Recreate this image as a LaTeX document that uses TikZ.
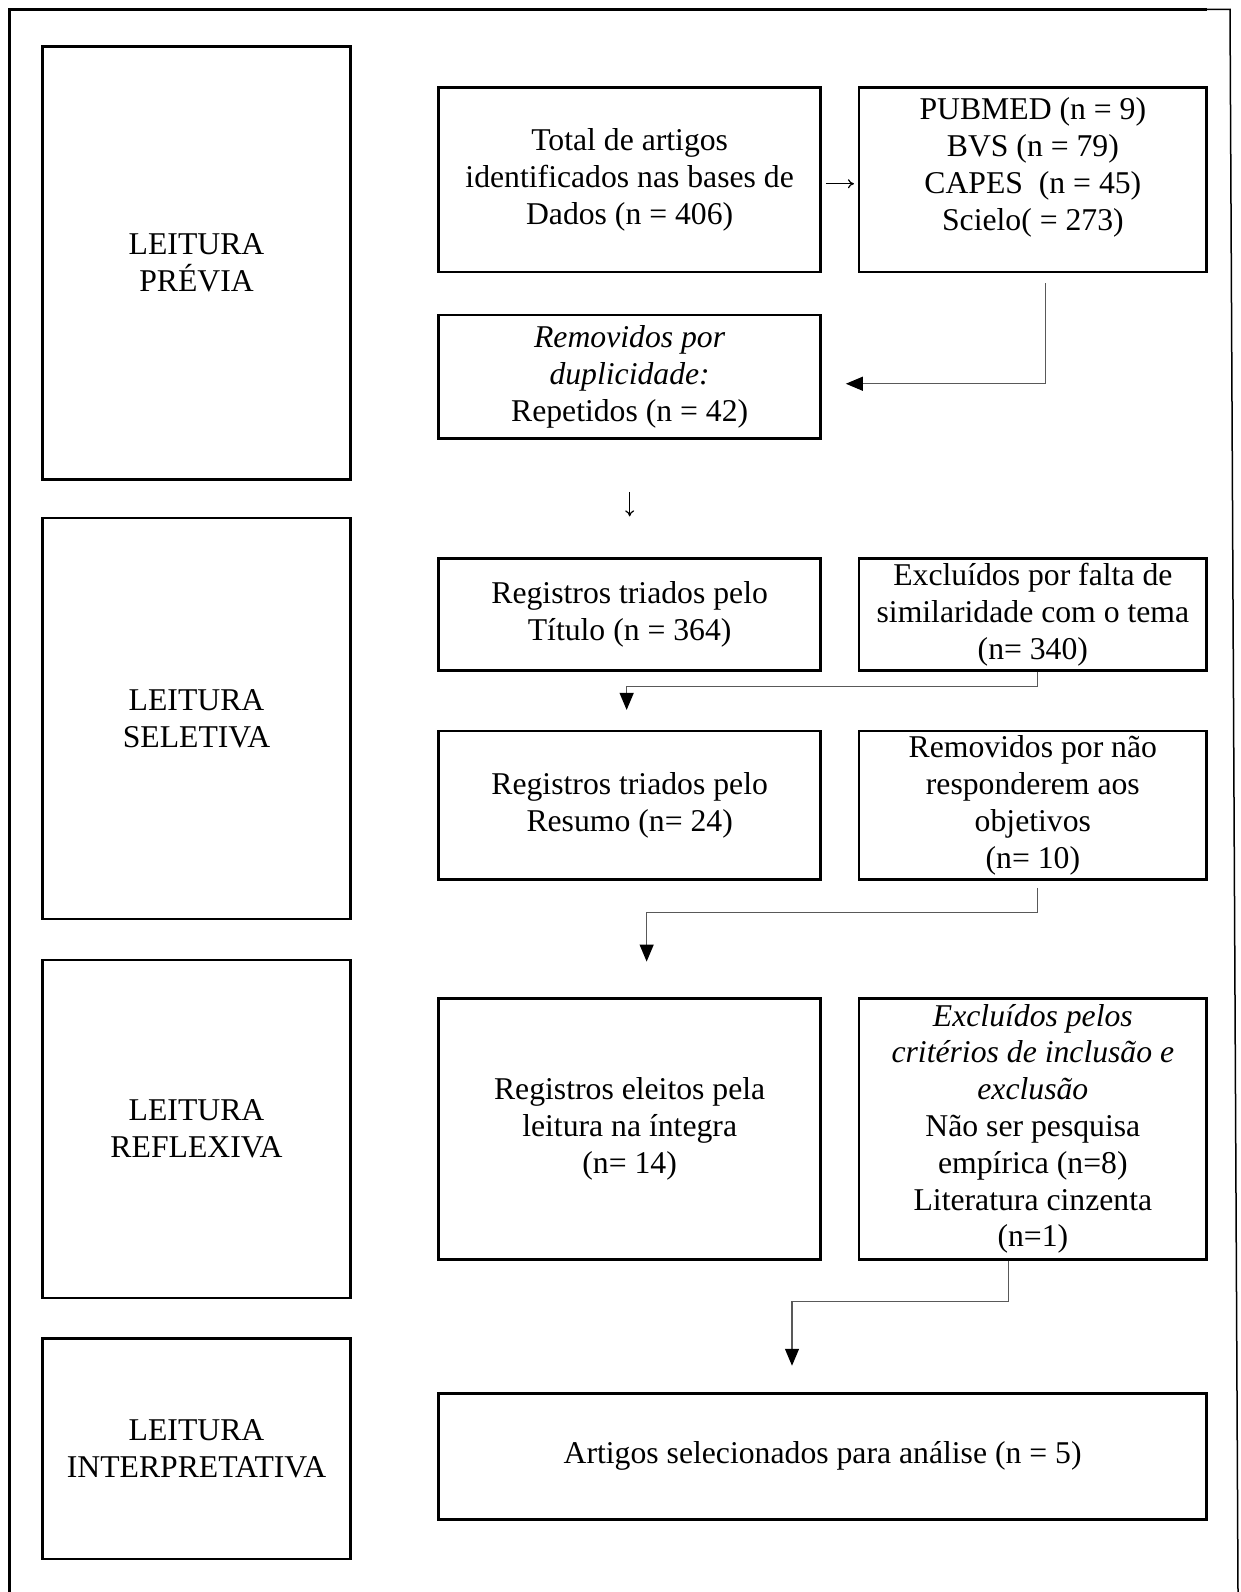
\documentclass[tikz,border=0pt]{standalone}
\usepackage{fontspec}
\setmainfont{Liberation Serif}
\usetikzlibrary{arrows.meta}
\begin{document}
\begin{tikzpicture}[x=1pt,y=1pt,
  box/.style={draw,line width=2.5pt,inner sep=0pt,align=center,
    font=\fontsize{31.7}{36.8}\selectfont},
  lbox/.style={box,minimum width=307.7pt},
  cbox/.style={box,minimum width=381.9pt},
  rbox/.style={box,minimum width=347.3pt},
  txt/.style={inner sep=0pt,align=center,font=\fontsize{31.7}{36.8}\selectfont},
  conn/.style={draw=black!65,line width=1.2pt,-{Triangle[length=17pt,width=14pt,fill=black,color=black]}},
  glyph/.style={line width=1.2pt,-{To[length=6pt,width=9pt]}}]
\useasboundingbox (0,0) rectangle (1240,-1592);
% outer frame (open at the bottom)
\draw[line width=2.5pt] (9.5,-1592) -- (9.5,-9.3) -- (1207,-9.3);
\draw[line width=1.5pt] (1207,-9.3) -- (1230,-9.3) -- (1238,-1592);

% phase boxes
\node[lbox,minimum height=432.7pt] (previa) at (196.5,-263) {LEITURA\\PRÉVIA};
\node[lbox,minimum height=401pt] (seletiva) at (196.5,-718.5) {LEITURA\\SELETIVA};
\node[lbox,minimum height=338pt] (reflexiva) at (196.5,-1129) {LEITURA\\REFLEXIVA};
\node[lbox,minimum height=220.4pt] (interp) at (196.5,-1448.8) {LEITURA\\INTERPRETATIVA};

% flow boxes
\node[cbox,minimum height=184.9pt] (total) at (629.65,-179.75)
  {Total de artigos\\identificados nas bases de\\Dados (n = 406)};
\node[rbox,minimum height=184.9pt] (bases) at (1032.85,-179.75) {};
\node[txt] (basestxt) at (1032.85,-167.5)
  {PUBMED (n = 9)\\BVS (n = 79)\\CAPES\ \ (n = 45)\\Scielo( = 273)};
\node[cbox,minimum height=123.9pt] (dup) at (629.65,-376.75)
  {\textit{Removidos por}\\\textit{duplicidade:}\\Repetidos (n = 42)};
\node[cbox,minimum height=111.7pt] (titulo) at (629.65,-614.45)
  {Registros triados pelo\\Título (n = 364)};
\node[rbox,minimum height=111.7pt] (excl1) at (1032.85,-614.45)
  {Excluídos por falta de\\similaridade com o tema\\(n= 340)};
\node[cbox,minimum height=148.3pt] (resumo) at (629.65,-805.35)
  {Registros triados pelo\\Resumo (n= 24)};
\node[rbox,minimum height=148.3pt] (remov) at (1032.85,-805.35)
  {Removidos por não\\responderem aos\\objetivos\\(n= 10)};
\node[cbox,minimum height=261pt] (eleitos) at (629.65,-1128.8)
  {Registros eleitos pela\\leitura na íntegra\\(n= 14)};
\node[rbox,minimum height=261pt] (excl2) at (1032.85,-1128.8)
  {\textit{Excluídos pelos}\\\textit{critérios de inclusão e}\\\textit{exclusão}\\Não ser pesquisa\\empírica (n=8)\\Literatura cinzenta\\(n=1)};
\node[box,minimum width=767.8pt,minimum height=125.9pt] (artigos) at (822.6,-1456.35)
  {Artigos selecionados para análise (n = 5)};

% connectors
\draw[glyph] ([xshift=4pt,yshift=-4pt]total.east) -- ([xshift=-4pt,yshift=-4pt]bases.west);
\draw[conn] ([xshift=13pt,yshift=-10pt]bases.south) |- ([xshift=24pt,yshift=-7pt]dup.east);
\draw[glyph] ([yshift=-52pt]dup.south) -- ([yshift=41pt]titulo.north);
\draw[conn] ([xshift=5pt]excl1.south) -- ++(0,-15) -| ([xshift=-3pt,yshift=20pt]resumo.north);
\draw[conn] ([xshift=5pt,yshift=-7pt]remov.south) -- ++(0,-25) -| ([xshift=17pt,yshift=35.5pt]eleitos.north);
\draw[conn] ([xshift=-24.3pt]excl2.south) -- ++(0,-41) -| ([xshift=-30.6pt,yshift=26.4pt]artigos.north);
\end{tikzpicture}
\end{document}
